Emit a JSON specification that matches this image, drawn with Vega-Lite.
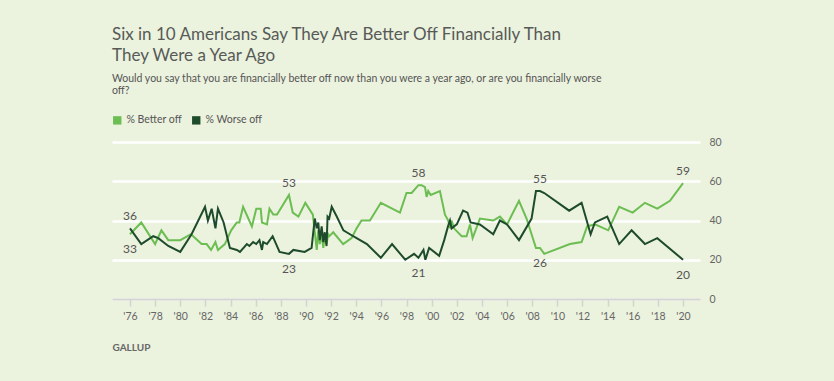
{
  "$schema": "https://vega.github.io/schema/vega-lite/v6.json",
  "width": 588,
  "height": 157,
  "autosize": {"type": "none"},
  "padding": {"left": 112, "top": 142, "right": 134, "bottom": 82},
  "background": "#ebf2de",
  "config": {"font": "Lato", "view": {"stroke": null}},
  "title": {
    "text": ["Six in 10 Americans Say They Are Better Off Financially Than", "They Were a Year Ago"],
    "subtitle": ["Would you say that you are financially better off now than you were a year ago, or are you financially worse", "off?"],
    "anchor": "start",
    "frame": "group",
    "font": "Lato",
    "subtitleFont": "Lato",
    "fontSize": 17,
    "lineHeight": 21,
    "fontWeight": "normal",
    "color": "#575a57",
    "subtitleFontSize": 10.5,
    "subtitleLineHeight": 12,
    "subtitleColor": "#555555",
    "subtitlePadding": 9,
    "offset": 18
  },
  "data": {"values": [
    {"year": 1976.0, "series": "% Better off", "value": 33, "callout": "low"},
    {"year": 1976.9, "series": "% Better off", "value": 39},
    {"year": 1978.0, "series": "% Better off", "value": 28},
    {"year": 1978.5, "series": "% Better off", "value": 35},
    {"year": 1979.05, "series": "% Better off", "value": 30},
    {"year": 1980.0, "series": "% Better off", "value": 30},
    {"year": 1980.85, "series": "% Better off", "value": 33},
    {"year": 1981.7, "series": "% Better off", "value": 28},
    {"year": 1982.1, "series": "% Better off", "value": 28},
    {"year": 1982.45, "series": "% Better off", "value": 25},
    {"year": 1982.8, "series": "% Better off", "value": 29},
    {"year": 1983.0, "series": "% Better off", "value": 25},
    {"year": 1983.55, "series": "% Better off", "value": 28},
    {"year": 1984.05, "series": "% Better off", "value": 35},
    {"year": 1984.5, "series": "% Better off", "value": 39},
    {"year": 1984.7, "series": "% Better off", "value": 39},
    {"year": 1985.0, "series": "% Better off", "value": 47},
    {"year": 1985.7, "series": "% Better off", "value": 37},
    {"year": 1986.05, "series": "% Better off", "value": 46},
    {"year": 1986.4, "series": "% Better off", "value": 46},
    {"year": 1986.5, "series": "% Better off", "value": 39},
    {"year": 1986.9, "series": "% Better off", "value": 38},
    {"year": 1987.1, "series": "% Better off", "value": 46},
    {"year": 1987.4, "series": "% Better off", "value": 43},
    {"year": 1987.7, "series": "% Better off", "value": 43},
    {"year": 1988.65, "series": "% Better off", "value": 53, "callout": "high"},
    {"year": 1988.95, "series": "% Better off", "value": 44},
    {"year": 1989.4, "series": "% Better off", "value": 42},
    {"year": 1989.95, "series": "% Better off", "value": 49},
    {"year": 1990.55, "series": "% Better off", "value": 43},
    {"year": 1990.72, "series": "% Better off", "value": 33},
    {"year": 1990.86, "series": "% Better off", "value": 25},
    {"year": 1990.98, "series": "% Better off", "value": 35},
    {"year": 1991.1, "series": "% Better off", "value": 28},
    {"year": 1991.25, "series": "% Better off", "value": 33},
    {"year": 1991.38, "series": "% Better off", "value": 26},
    {"year": 1991.5, "series": "% Better off", "value": 32},
    {"year": 1991.64, "series": "% Better off", "value": 28},
    {"year": 1991.77, "series": "% Better off", "value": 33},
    {"year": 1991.86, "series": "% Better off", "value": 32},
    {"year": 1992.17, "series": "% Better off", "value": 34},
    {"year": 1992.96, "series": "% Better off", "value": 28},
    {"year": 1993.63, "series": "% Better off", "value": 31},
    {"year": 1994.03, "series": "% Better off", "value": 36},
    {"year": 1994.42, "series": "% Better off", "value": 40},
    {"year": 1995.09, "series": "% Better off", "value": 40},
    {"year": 1995.96, "series": "% Better off", "value": 49},
    {"year": 1997.48, "series": "% Better off", "value": 44},
    {"year": 1998.0, "series": "% Better off", "value": 54},
    {"year": 1998.41, "series": "% Better off", "value": 54},
    {"year": 1998.95, "series": "% Better off", "value": 58, "callout": "high"},
    {"year": 1999.2, "series": "% Better off", "value": 58},
    {"year": 1999.47, "series": "% Better off", "value": 57},
    {"year": 1999.6, "series": "% Better off", "value": 52},
    {"year": 1999.73, "series": "% Better off", "value": 55},
    {"year": 1999.92, "series": "% Better off", "value": 53},
    {"year": 2000.66, "series": "% Better off", "value": 55},
    {"year": 2001.06, "series": "% Better off", "value": 43},
    {"year": 2001.32, "series": "% Better off", "value": 40},
    {"year": 2001.46, "series": "% Better off", "value": 36},
    {"year": 2001.59, "series": "% Better off", "value": 40},
    {"year": 2001.78, "series": "% Better off", "value": 36},
    {"year": 2002.39, "series": "% Better off", "value": 32},
    {"year": 2002.78, "series": "% Better off", "value": 32},
    {"year": 2003.05, "series": "% Better off", "value": 38},
    {"year": 2003.26, "series": "% Better off", "value": 31},
    {"year": 2003.84, "series": "% Better off", "value": 41},
    {"year": 2004.9, "series": "% Better off", "value": 40},
    {"year": 2005.43, "series": "% Better off", "value": 42},
    {"year": 2006.0, "series": "% Better off", "value": 38},
    {"year": 2006.95, "series": "% Better off", "value": 50},
    {"year": 2007.55, "series": "% Better off", "value": 41},
    {"year": 2008.3, "series": "% Better off", "value": 26},
    {"year": 2008.62, "series": "% Better off", "value": 26, "callout": "low"},
    {"year": 2008.96, "series": "% Better off", "value": 23},
    {"year": 2011.0, "series": "% Better off", "value": 28},
    {"year": 2011.93, "series": "% Better off", "value": 29},
    {"year": 2012.37, "series": "% Better off", "value": 37},
    {"year": 2012.99, "series": "% Better off", "value": 38},
    {"year": 2014.05, "series": "% Better off", "value": 35},
    {"year": 2014.92, "series": "% Better off", "value": 47},
    {"year": 2015.99, "series": "% Better off", "value": 44},
    {"year": 2016.97, "series": "% Better off", "value": 49},
    {"year": 2017.95, "series": "% Better off", "value": 46},
    {"year": 2018.96, "series": "% Better off", "value": 50},
    {"year": 2020.0, "series": "% Better off", "value": 59, "callout": "high"},
    {"year": 1976.0, "series": "% Worse off", "value": 36, "callout": "high"},
    {"year": 1976.9, "series": "% Worse off", "value": 28},
    {"year": 1977.85, "series": "% Worse off", "value": 32},
    {"year": 1978.25, "series": "% Worse off", "value": 31},
    {"year": 1979.05, "series": "% Worse off", "value": 27},
    {"year": 1980.0, "series": "% Worse off", "value": 24},
    {"year": 1980.9, "series": "% Worse off", "value": 33},
    {"year": 1981.97, "series": "% Worse off", "value": 47},
    {"year": 1982.2, "series": "% Worse off", "value": 40},
    {"year": 1982.5, "series": "% Worse off", "value": 46},
    {"year": 1982.8, "series": "% Worse off", "value": 36},
    {"year": 1983.0, "series": "% Worse off", "value": 46},
    {"year": 1983.45, "series": "% Worse off", "value": 39},
    {"year": 1983.95, "series": "% Worse off", "value": 26},
    {"year": 1984.5, "series": "% Worse off", "value": 25},
    {"year": 1984.75, "series": "% Worse off", "value": 24},
    {"year": 1985.3, "series": "% Worse off", "value": 28},
    {"year": 1985.5, "series": "% Worse off", "value": 27},
    {"year": 1985.8, "series": "% Worse off", "value": 29},
    {"year": 1986.05, "series": "% Worse off", "value": 28},
    {"year": 1986.3, "series": "% Worse off", "value": 30},
    {"year": 1986.5, "series": "% Worse off", "value": 25},
    {"year": 1986.6, "series": "% Worse off", "value": 29},
    {"year": 1986.9, "series": "% Worse off", "value": 28},
    {"year": 1987.35, "series": "% Worse off", "value": 32},
    {"year": 1987.9, "series": "% Worse off", "value": 24},
    {"year": 1988.65, "series": "% Worse off", "value": 23, "callout": "low"},
    {"year": 1989.0, "series": "% Worse off", "value": 25},
    {"year": 1989.9, "series": "% Worse off", "value": 24},
    {"year": 1990.45, "series": "% Worse off", "value": 26},
    {"year": 1990.7, "series": "% Worse off", "value": 41},
    {"year": 1990.86, "series": "% Worse off", "value": 36},
    {"year": 1990.98, "series": "% Worse off", "value": 39},
    {"year": 1991.1, "series": "% Worse off", "value": 30},
    {"year": 1991.25, "series": "% Worse off", "value": 37},
    {"year": 1991.38, "series": "% Worse off", "value": 29},
    {"year": 1991.5, "series": "% Worse off", "value": 34},
    {"year": 1991.64, "series": "% Worse off", "value": 27},
    {"year": 1991.72, "series": "% Worse off", "value": 42},
    {"year": 1991.85, "series": "% Worse off", "value": 41},
    {"year": 1992.05, "series": "% Worse off", "value": 47},
    {"year": 1992.45, "series": "% Worse off", "value": 42},
    {"year": 1992.98, "series": "% Worse off", "value": 35},
    {"year": 1993.5, "series": "% Worse off", "value": 33},
    {"year": 1994.03, "series": "% Worse off", "value": 31},
    {"year": 1994.85, "series": "% Worse off", "value": 28},
    {"year": 1995.96, "series": "% Worse off", "value": 21},
    {"year": 1996.85, "series": "% Worse off", "value": 28},
    {"year": 1997.9, "series": "% Worse off", "value": 20},
    {"year": 1998.6, "series": "% Worse off", "value": 23},
    {"year": 1998.95, "series": "% Worse off", "value": 21, "callout": "low"},
    {"year": 1999.35, "series": "% Worse off", "value": 25},
    {"year": 1999.5, "series": "% Worse off", "value": 20},
    {"year": 1999.8, "series": "% Worse off", "value": 26},
    {"year": 2000.6, "series": "% Worse off", "value": 22},
    {"year": 2001.0, "series": "% Worse off", "value": 30},
    {"year": 2001.3, "series": "% Worse off", "value": 37},
    {"year": 2001.46, "series": "% Worse off", "value": 40},
    {"year": 2001.59, "series": "% Worse off", "value": 36},
    {"year": 2001.78, "series": "% Worse off", "value": 37},
    {"year": 2002.0, "series": "% Worse off", "value": 38},
    {"year": 2002.5, "series": "% Worse off", "value": 45},
    {"year": 2002.85, "series": "% Worse off", "value": 44},
    {"year": 2003.1, "series": "% Worse off", "value": 39},
    {"year": 2003.84, "series": "% Worse off", "value": 38},
    {"year": 2004.9, "series": "% Worse off", "value": 33},
    {"year": 2005.43, "series": "% Worse off", "value": 40},
    {"year": 2006.0, "series": "% Worse off", "value": 38},
    {"year": 2006.95, "series": "% Worse off", "value": 30},
    {"year": 2007.95, "series": "% Worse off", "value": 41},
    {"year": 2008.3, "series": "% Worse off", "value": 55},
    {"year": 2008.62, "series": "% Worse off", "value": 55, "callout": "high"},
    {"year": 2008.96, "series": "% Worse off", "value": 54},
    {"year": 2010.94, "series": "% Worse off", "value": 45},
    {"year": 2011.93, "series": "% Worse off", "value": 49},
    {"year": 2012.65, "series": "% Worse off", "value": 33},
    {"year": 2012.99, "series": "% Worse off", "value": 39},
    {"year": 2013.97, "series": "% Worse off", "value": 42},
    {"year": 2014.92, "series": "% Worse off", "value": 28},
    {"year": 2015.91, "series": "% Worse off", "value": 35},
    {"year": 2016.97, "series": "% Worse off", "value": 28},
    {"year": 2017.95, "series": "% Worse off", "value": 31},
    {"year": 2020.0, "series": "% Worse off", "value": 20, "callout": "low"}
  ]},
  "encoding": {
    "x": {
      "field": "year",
      "type": "quantitative",
      "scale": {"domain": [1974.57, 2021.35], "nice": false, "zero": false},
      "axis": {
        "values": [1976, 1978, 1980, 1982, 1984, 1986, 1988, 1990, 1992, 1994, 1996, 1998, 2000, 2002, 2004, 2006, 2008, 2010, 2012, 2014, 2016, 2018, 2020],
        "labelExpr": "\"'\" + slice(toString(datum.value), 2)",
        "grid": false,
        "domainColor": "#d2d4cf",
        "domainWidth": 2,
        "tickColor": "#d2d4cf",
        "tickWidth": 1.5,
        "tickSize": 7,
        "labelColor": "#666666",
        "labelFontSize": 10.5,
        "labelPadding": 5,
        "labelFlush": false,
        "title": "GALLUP",
        "titleAnchor": "start",
        "titleAlign": "left",
        "titleFontSize": 10,
        "titleFontWeight": "bold",
        "titleColor": "#666666",
        "titlePadding": 21,
        "zindex": 1
      }
    },
    "y": {
      "field": "value",
      "type": "quantitative",
      "scale": {"domain": [0, 80], "nice": false},
      "axis": {
        "orient": "right",
        "values": [0, 20, 40, 60, 80],
        "grid": true,
        "gridColor": "#ffffff",
        "gridWidth": 2.5,
        "domain": false,
        "ticks": false,
        "labelColor": "#666666",
        "labelFontSize": 10.5,
        "labelPadding": 9,
        "title": null
      }
    }
  },
  "layer": [
    {
      "mark": {"type": "line", "strokeWidth": 2},
      "encoding": {
        "color": {
          "field": "series",
          "type": "nominal",
          "scale": {"domain": ["% Better off", "% Worse off"], "range": ["#6cbd52", "#1e4b2b"]},
          "legend": {
            "orient": "none",
            "legendX": 0,
            "legendY": -27,
            "direction": "horizontal",
            "title": null,
            "symbolType": "square",
            "symbolSize": 70,
            "symbolStrokeWidth": 0,
            "labelFontSize": 10.5,
            "labelColor": "#555555",
            "labelOffset": 4,
            "columnPadding": 9,
            "encode": {"symbols": {"update": {"fill": {"scale": "color", "field": "value"}, "strokeWidth": {"value": 0}}}}
          }
        }
      }
    },
    {
      "transform": [{"filter": "datum.callout == 'high'"}],
      "mark": {"type": "text", "dy": -12, "fontSize": 12, "color": "#555555"},
      "encoding": {"text": {"field": "value", "type": "quantitative", "format": "d"}}
    },
    {
      "transform": [{"filter": "datum.callout == 'low'"}],
      "mark": {"type": "text", "dy": 15, "fontSize": 12, "color": "#555555"},
      "encoding": {"text": {"field": "value", "type": "quantitative", "format": "d"}}
    }
  ]
}
